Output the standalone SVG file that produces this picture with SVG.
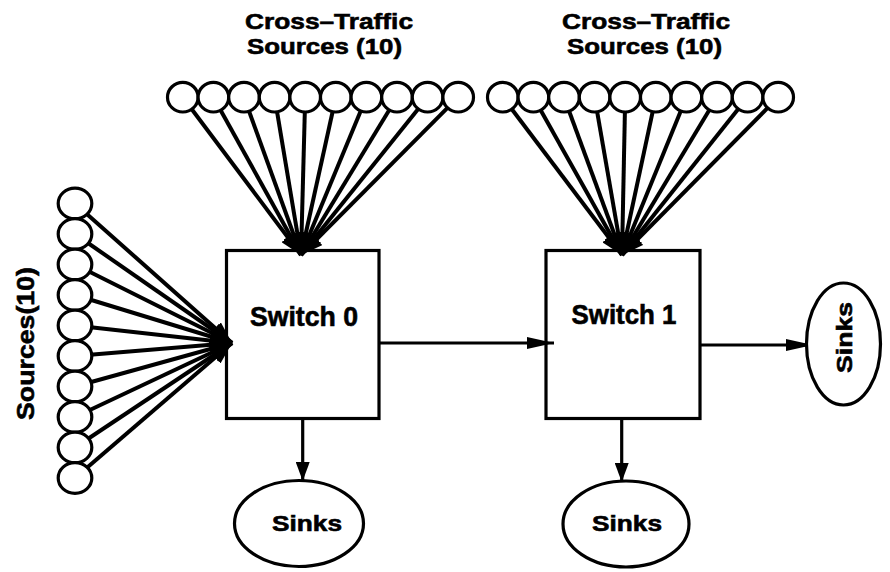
<svg xmlns="http://www.w3.org/2000/svg" width="890" height="572" viewBox="0 0 890 572">
<style>
.node{fill:#fff;stroke:#000;stroke-width:3.2}
.box{fill:none;stroke:#000;stroke-width:3.2}
.fan{stroke:#000;stroke-width:4;fill:none}
.lk{stroke:#000;stroke-width:3;fill:none}
.dn{stroke:#000;stroke-width:3.2;fill:none}
text{font-family:"Liberation Sans",Arial,sans-serif;font-weight:bold;fill:#000;stroke:#000;stroke-width:0.6}
</style>
<defs>
<marker id="fa" markerUnits="userSpaceOnUse" markerWidth="22" markerHeight="16" refX="22" refY="8" orient="auto"><path d="M0,0 L22,8 L0,16 z" fill="#000"/></marker>
<marker id="la" markerUnits="userSpaceOnUse" markerWidth="27" markerHeight="12" refX="27" refY="6" orient="auto"><path d="M0,0 L27,6 L0,12 z" fill="#000"/></marker>
<marker id="da" markerUnits="userSpaceOnUse" markerWidth="19" markerHeight="14" refX="19" refY="7" orient="auto"><path d="M0,0 L19,7 L0,14 z" fill="#000"/></marker>
</defs>
<g id="connectors">
<g class="fan" marker-end="url(#fa)">
<line x1="182.8" y1="97.2" x2="301" y2="255"/>
<line x1="213.4" y1="97.2" x2="301" y2="255"/>
<line x1="244.0" y1="97.2" x2="301" y2="255"/>
<line x1="274.6" y1="97.2" x2="301" y2="255"/>
<line x1="305.2" y1="97.2" x2="301" y2="255"/>
<line x1="335.8" y1="97.2" x2="301" y2="255"/>
<line x1="366.4" y1="97.2" x2="301" y2="255"/>
<line x1="397.0" y1="97.2" x2="301" y2="255"/>
<line x1="427.6" y1="97.2" x2="301" y2="255"/>
<line x1="458.2" y1="97.2" x2="301" y2="255"/>
<line x1="502.8" y1="97.2" x2="622" y2="255"/>
<line x1="533.4" y1="97.2" x2="622" y2="255"/>
<line x1="564.0" y1="97.2" x2="622" y2="255"/>
<line x1="594.6" y1="97.2" x2="622" y2="255"/>
<line x1="625.2" y1="97.2" x2="622" y2="255"/>
<line x1="655.8" y1="97.2" x2="622" y2="255"/>
<line x1="686.4" y1="97.2" x2="622" y2="255"/>
<line x1="717.0" y1="97.2" x2="622" y2="255"/>
<line x1="747.6" y1="97.2" x2="622" y2="255"/>
<line x1="778.2" y1="97.2" x2="622" y2="255"/>
<line x1="75" y1="203.5" x2="232" y2="343"/>
<line x1="75" y1="234" x2="232" y2="343"/>
<line x1="75" y1="264.5" x2="232" y2="343"/>
<line x1="75" y1="295" x2="232" y2="343"/>
<line x1="75" y1="325.5" x2="232" y2="343"/>
<line x1="75" y1="356" x2="232" y2="343"/>
<line x1="75" y1="386.5" x2="232" y2="343"/>
<line x1="75" y1="417" x2="232" y2="343"/>
<line x1="75" y1="447.5" x2="232" y2="343"/>
<line x1="75" y1="478" x2="232" y2="343"/>
</g>
<line class="lk" x1="379" y1="343" x2="554" y2="343" marker-end="url(#la)"/>
<line class="lk" x1="700" y1="345" x2="813" y2="345" marker-end="url(#la)"/>
<line class="dn" x1="302.7" y1="419" x2="302.7" y2="481" marker-end="url(#da)"/>
<line class="dn" x1="621.7" y1="419" x2="621.7" y2="482" marker-end="url(#da)"/>
</g>
<g id="cross-sources-0">
<text x="329" y="29" font-size="22.5" text-anchor="middle" textLength="168" lengthAdjust="spacingAndGlyphs">Cross–Traffic</text>
<text x="324.5" y="54" font-size="22.5" text-anchor="middle" textLength="155" lengthAdjust="spacingAndGlyphs">Sources (10)</text>
<ellipse class="node" cx="182.8" cy="97.2" rx="15.3" ry="14.8"/>
<ellipse class="node" cx="213.4" cy="97.2" rx="15.3" ry="14.8"/>
<ellipse class="node" cx="244.0" cy="97.2" rx="15.3" ry="14.8"/>
<ellipse class="node" cx="274.6" cy="97.2" rx="15.3" ry="14.8"/>
<ellipse class="node" cx="305.2" cy="97.2" rx="15.3" ry="14.8"/>
<ellipse class="node" cx="335.8" cy="97.2" rx="15.3" ry="14.8"/>
<ellipse class="node" cx="366.4" cy="97.2" rx="15.3" ry="14.8"/>
<ellipse class="node" cx="397.0" cy="97.2" rx="15.3" ry="14.8"/>
<ellipse class="node" cx="427.6" cy="97.2" rx="15.3" ry="14.8"/>
<ellipse class="node" cx="458.2" cy="97.2" rx="15.3" ry="14.8"/>
</g>
<g id="cross-sources-1">
<text x="646" y="29" font-size="22.5" text-anchor="middle" textLength="168" lengthAdjust="spacingAndGlyphs">Cross–Traffic</text>
<text x="644.5" y="54" font-size="22.5" text-anchor="middle" textLength="155" lengthAdjust="spacingAndGlyphs">Sources (10)</text>
<ellipse class="node" cx="502.8" cy="97.2" rx="15.3" ry="14.8"/>
<ellipse class="node" cx="533.4" cy="97.2" rx="15.3" ry="14.8"/>
<ellipse class="node" cx="564.0" cy="97.2" rx="15.3" ry="14.8"/>
<ellipse class="node" cx="594.6" cy="97.2" rx="15.3" ry="14.8"/>
<ellipse class="node" cx="625.2" cy="97.2" rx="15.3" ry="14.8"/>
<ellipse class="node" cx="655.8" cy="97.2" rx="15.3" ry="14.8"/>
<ellipse class="node" cx="686.4" cy="97.2" rx="15.3" ry="14.8"/>
<ellipse class="node" cx="717.0" cy="97.2" rx="15.3" ry="14.8"/>
<ellipse class="node" cx="747.6" cy="97.2" rx="15.3" ry="14.8"/>
<ellipse class="node" cx="778.2" cy="97.2" rx="15.3" ry="14.8"/>
</g>
<g id="sources">
<text transform="translate(34,343.5) rotate(-90)" font-size="24" text-anchor="middle" textLength="153" lengthAdjust="spacingAndGlyphs">Sources(10)</text>
<ellipse class="node" cx="75" cy="203.5" rx="16.8" ry="15.3"/>
<ellipse class="node" cx="75" cy="234" rx="16.8" ry="15.3"/>
<ellipse class="node" cx="75" cy="264.5" rx="16.8" ry="15.3"/>
<ellipse class="node" cx="75" cy="295" rx="16.8" ry="15.3"/>
<ellipse class="node" cx="75" cy="325.5" rx="16.8" ry="15.3"/>
<ellipse class="node" cx="75" cy="356" rx="16.8" ry="15.3"/>
<ellipse class="node" cx="75" cy="386.5" rx="16.8" ry="15.3"/>
<ellipse class="node" cx="75" cy="417" rx="16.8" ry="15.3"/>
<ellipse class="node" cx="75" cy="447.5" rx="16.8" ry="15.3"/>
<ellipse class="node" cx="75" cy="478" rx="16.8" ry="15.3"/>
</g>
<g id="switch0">
<rect class="box" x="226.5" y="250.5" width="152.5" height="168"/>
<text x="304" y="326" font-size="27" text-anchor="middle" textLength="108" lengthAdjust="spacingAndGlyphs">Switch 0</text>
</g>
<g id="switch1">
<rect class="box" x="546" y="250.5" width="154" height="168"/>
<text x="624" y="324" font-size="27" text-anchor="middle" textLength="105" lengthAdjust="spacingAndGlyphs">Switch 1</text>
</g>
<g id="sinks0">
<ellipse class="node" cx="299" cy="523.5" rx="64.5" ry="43"/>
<text x="307" y="531" font-size="21.5" text-anchor="middle" textLength="70" lengthAdjust="spacingAndGlyphs">Sinks</text>
</g>
<g id="sinks1">
<ellipse class="node" cx="626" cy="524" rx="63" ry="43"/>
<text x="627" y="531" font-size="21.5" text-anchor="middle" textLength="70" lengthAdjust="spacingAndGlyphs">Sinks</text>
</g>
<g id="sinks2">
<ellipse class="node" cx="843.5" cy="344" rx="37" ry="61"/>
<text transform="translate(852,337.5) rotate(-90)" font-size="22" text-anchor="middle" textLength="71" lengthAdjust="spacingAndGlyphs">Sinks</text>
</g>
</svg>
